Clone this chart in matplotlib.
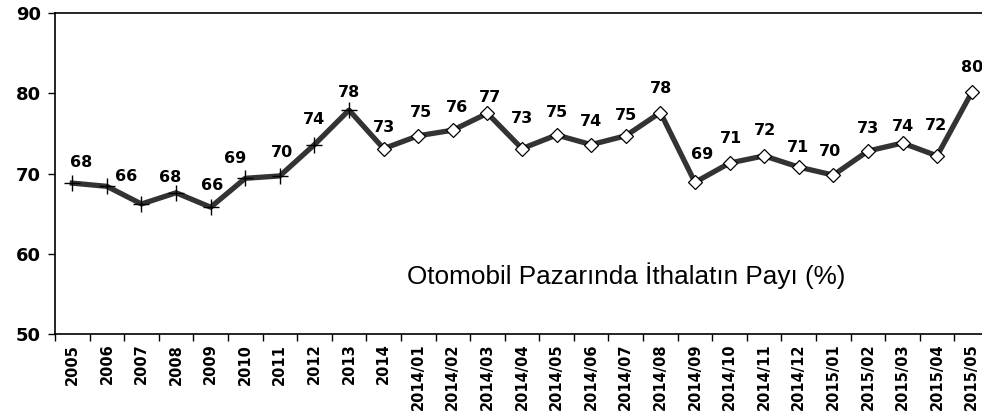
import matplotlib

matplotlib.use("Agg")
import matplotlib.pyplot as plt


periods = [
    "2005", "2006", "2007", "2008", "2009", "2010", "2011", "2012", "2013", "2014",
    "2014/01", "2014/02", "2014/03", "2014/04", "2014/05", "2014/06", "2014/07",
    "2014/08", "2014/09", "2014/10", "2014/11", "2014/12",
    "2015/01", "2015/02", "2015/03", "2015/04", "2015/05",
]
import_share = [
    68.8, 68.4, 66.2, 67.6, 65.8, 69.4, 69.7, 73.6, 77.9, 73.1,
    74.7, 75.4, 77.5, 73.1, 74.8, 73.6, 74.7,
    77.6, 68.9, 71.3, 72.2, 70.8,
    69.8, 72.8, 73.8, 72.2, 80.1,
]
value_labels = [
    "68", None, "66", "68", "66", "69", "70", "74", "78", "73",
    "75", "76", "77", "73", "75", "74", "75",
    "78", "69", "71", "72", "71",
    "70", "73", "74", "72", "80",
]
n_yearly = 9  # 2005-2013 drawn with "+", the rest with diamonds
y_ticks = [50, 60, 70, 80, 90]
title = "Otomobil Pazarında İthalatın Payı (%)"

# label offsets in pixels (dx, dy) relative to each point
label_offsets = [
    (9, 21), (0, 0), (-15, 27), (-6, 15), (1, 22), (-10, 20), (2, 23), (0, 25), (0, 18), (0, 21),
    (3, 23), (4, 23), (3, 16), (0, 30), (0, 22), (0, 23), (0, 20),
    (1, 24), (7, 28), (1, 25), (1, 25), (-1, 20),
    (-3, 24), (0, 23), (0, 17), (-1, 30), (0, 25),
]


def main():
    plt.rcParams["font.family"] = ["DejaVu Sans"]
    fig = plt.figure(figsize=(9.82, 4.2), dpi=100)
    ax = fig.add_axes([55 / 982, 86 / 420, 934 / 982, 321 / 420])

    xs = list(range(len(periods)))
    ax.plot(xs, import_share, color="#333333", linewidth=3.8, zorder=2)
    ax.plot(xs[:n_yearly], import_share[:n_yearly], linestyle="none", marker="+",
            markersize=11, markeredgewidth=1.0, color="black", zorder=3)
    ax.plot(xs[n_yearly:], import_share[n_yearly:], linestyle="none", marker="D",
            markersize=7, markerfacecolor="white", markeredgecolor="black",
            markeredgewidth=0.9, zorder=3)

    for x, y, text, (dx, dy) in zip(xs, import_share, value_labels, label_offsets):
        if text is None:
            continue
        ax.annotate(text, (x, y), xytext=(dx, dy), textcoords="offset pixels",
                    ha="center", va="center", fontsize=11.5, fontweight="bold")

    ax.text(0.612, 0.181, title, transform=ax.transAxes, ha="center", va="center",
            fontsize=18.8, family="Liberation Sans")

    ax.set_xlim(-0.5, len(periods) - 0.5)
    ax.set_ylim(y_ticks[0], y_ticks[-1])
    ax.set_yticks(y_ticks)
    ax.set_yticklabels([str(v) for v in y_ticks], fontsize=13, fontweight="bold")
    ax.tick_params(axis="y", length=5, width=1, pad=5)

    ax.set_xticks(xs)
    ax.set_xticklabels(periods, rotation=90, fontsize=10.5, fontweight="bold")
    ax.set_xticks([x - 0.5 for x in range(len(periods) + 1)], minor=True)
    ax.tick_params(axis="x", which="major", length=0, pad=7)
    ax.tick_params(axis="x", which="minor", length=5, width=1)

    for side in ["left", "bottom", "top"]:
        ax.spines[side].set_linewidth(1.2)
    ax.spines["right"].set_visible(False)

    fig.savefig("out.png", dpi=100)
    plt.close(fig)


if __name__ == "__main__":
    main()
